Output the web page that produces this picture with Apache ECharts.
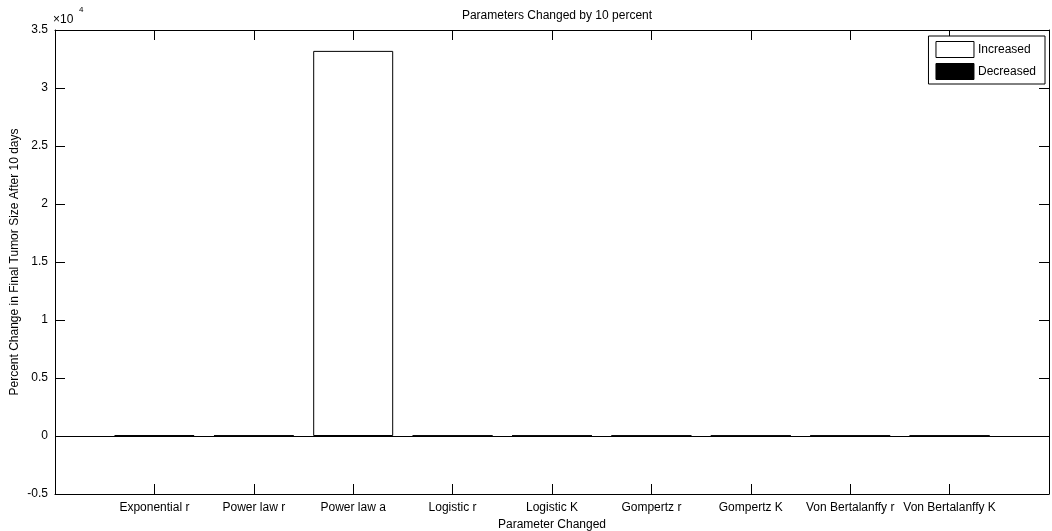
<!DOCTYPE html>
<html>
<head>
<meta charset="utf-8">
<script src="https://cdn.jsdelivr.net/npm/echarts@6/dist/echarts.min.js"></script>
<style>
html,body{margin:0;padding:0;background:#fff;}
#chart{width:1052px;height:531px;}
</style>
</head>
<body>
<div id="chart"></div>
<script>
const categories = ['Exponential r','Power law r','Power law a','Logistic r','Logistic K','Gompertz r','Gompertz K','Von Bertalanffy r','Von Bertalanffy K'];
const increased = [60, 35, 33200, 20, 12, 15, 10, 14, 10];
const decreased = [-45, -28, -70, -18, -10, -14, -9, -12, -9];
const yTicks = [-0.5, 0, 0.5, 1, 1.5, 2, 2.5, 3, 3.5];
const yScale = 10000;

const FONT = 'Liberation Sans';
const FS = 12;
const chart = echarts.init(document.getElementById('chart'), null, {renderer:'canvas'});

const incData = categories.map((c,i)=>[i+1, increased[i]]);
const decData = categories.map((c,i)=>[i+1, decreased[i]]);

const lineStyle = {color:'#000', width:1};
const xCommon = {
  type:'value', min:0, max:categories.length+1, interval:1,
  axisLine:{show:true, onZero:false, lineStyle:lineStyle},
  axisTick:{show:true, inside:true, length:10, lineStyle:lineStyle},
  splitLine:{show:false}
};
const yCommon = {
  type:'value', min:yTicks[0]*yScale, max:yTicks[yTicks.length-1]*yScale, interval:0.5*yScale,
  axisLine:{show:true, onZero:false, lineStyle:lineStyle},
  axisTick:{show:true, inside:true, length:10, lineStyle:lineStyle},
  splitLine:{show:false}
};

chart.setOption({
  animation:false,
  backgroundColor:'#fff',
  textStyle:{fontFamily:FONT},
  title:{text:'Parameters Changed by 10 percent', left:552, top:5, textAlign:'center',
    textStyle:{fontSize:FS, fontWeight:'normal', color:'#000', fontFamily:FONT}},
  legend:{
    right:7, top:36, orient:'vertical', itemWidth:38, itemHeight:16, itemGap:5,
    padding:[5,9,4,7], borderColor:'#000', borderWidth:1, backgroundColor:'#fff',
    textStyle:{fontSize:FS, color:'#000', fontFamily:FONT, padding:[2,0,0,-1]},
    data:[
      {name:'Increased', icon:'rect', itemStyle:{color:'#fff', borderColor:'#000', borderWidth:1}},
      {name:'Decreased', icon:'rect', itemStyle:{color:'#000', borderColor:'#000', borderWidth:1}}
    ]
  },
  grid:{left:55, right:3, top:30, bottom:37, outerBoundsMode:'none', containLabel:false},
  xAxis:[
    Object.assign({}, xCommon, {
      position:'bottom',
      name:'Parameter Changed', nameLocation:'middle', nameGap:25, nameMoveOverlap:false,
      nameTextStyle:{fontSize:FS, color:'#000', fontFamily:FONT},
      axisLabel:{margin:8, fontSize:FS, color:'#000', fontFamily:FONT,
        formatter:v=> (v>=1 && v<=categories.length) ? categories[v-1] : ''}
    }),
    Object.assign({}, xCommon, {position:'top', axisLabel:{show:false}})
  ],
  yAxis:[
    Object.assign({}, yCommon, {
      position:'left',
      name:'Percent Change in Final Tumor Size After 10 days', nameLocation:'middle', nameGap:34, nameMoveOverlap:false,
      nameTextStyle:{fontSize:FS, color:'#000', fontFamily:FONT},
      axisLabel:{margin:7, fontSize:FS, color:'#000', fontFamily:FONT,
        formatter:v=>{const t=v/yScale; return yTicks.find(k=>Math.abs(k-t)<1e-9)!==undefined ? String(Math.round(t*10)/10) : '';}}
    }),
    Object.assign({}, yCommon, {position:'right', axisLabel:{show:false}})
  ],
  graphic:[
    {type:'text', left:53, top:14, style:{text:'×10', fontSize:FS, fontFamily:FONT, fill:'#000'}},
    {type:'text', left:79, top:6, style:{text:'4', fontSize:8, fontFamily:FONT, fill:'#000'}}
  ],
  series:[
    {name:'Increased', type:'bar', xAxisIndex:0, yAxisIndex:0, data:incData, barWidth:80, barGap:'-100%',
     itemStyle:{color:'#fff', borderColor:'#000', borderWidth:1},
     markLine:{silent:true, symbol:'none', label:{show:false},
       lineStyle:{color:'#000', width:1, type:'solid'}, data:[{yAxis:0}]}},
    {name:'Decreased', type:'bar', xAxisIndex:0, yAxisIndex:0, data:decData, barWidth:80, barGap:'-100%',
     itemStyle:{color:'#000', borderColor:'#000', borderWidth:1}}
  ]
});
</script>
</body>
</html>
